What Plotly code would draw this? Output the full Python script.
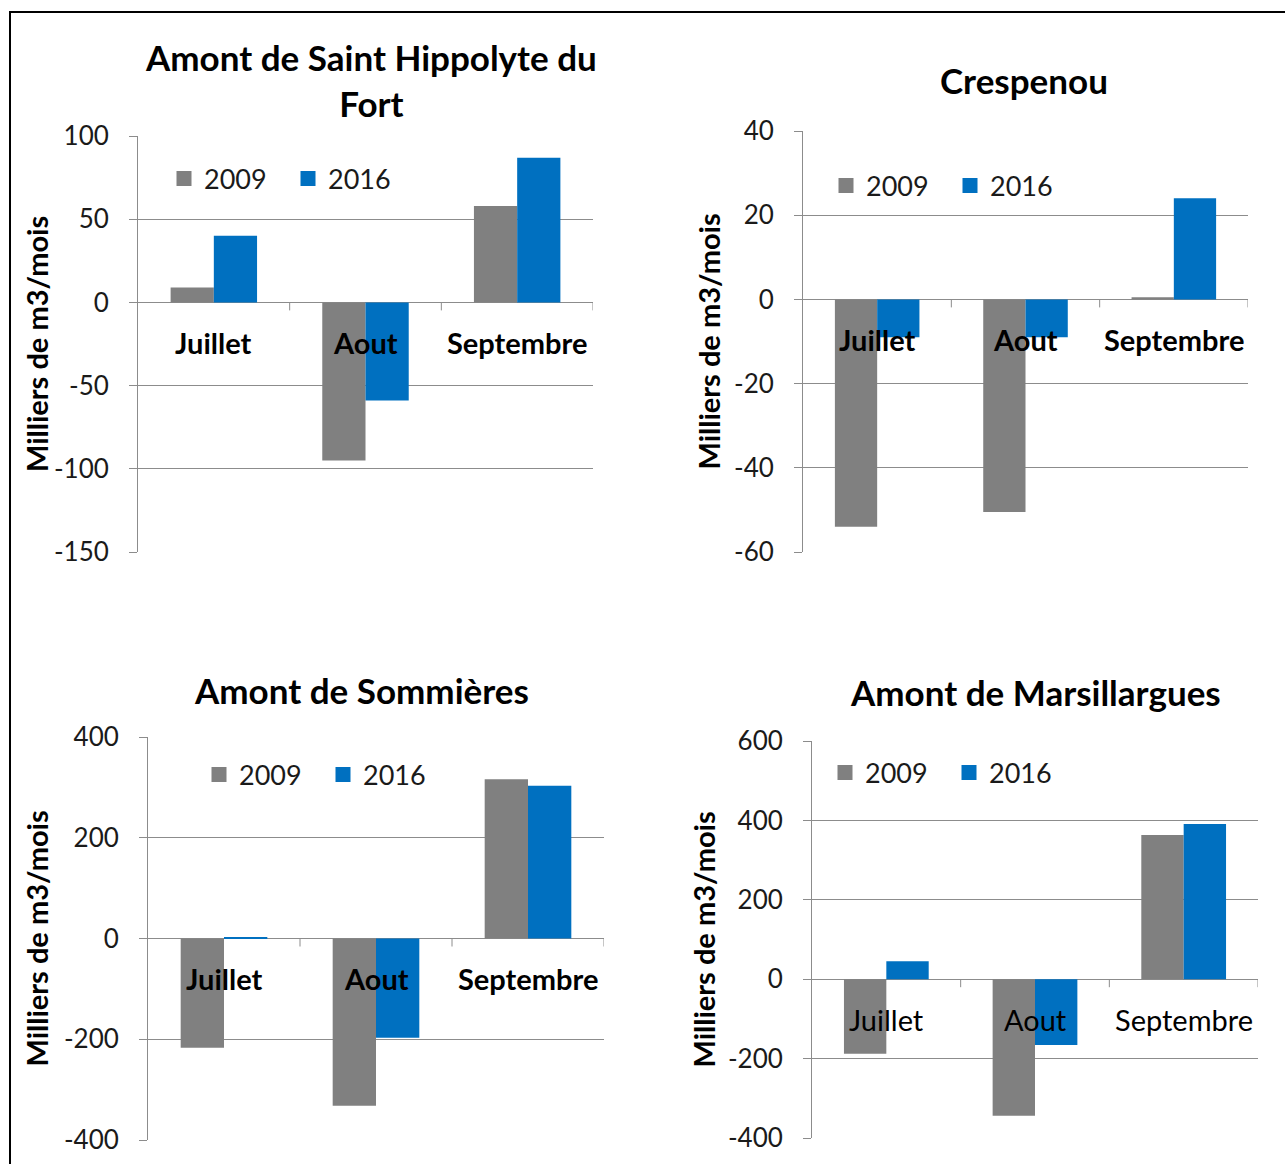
import plotly.graph_objects as go

W, H = 1285, 1164

months = ["Juillet", "Aout", "Septembre"]
years = ["2009", "2016"]
year_colors = {"2009": "#808080", "2016": "#0070C0"}

# Monthly balance in thousands of m3 per station
titles = [
    "Amont de Saint Hippolyte du<br>Fort",
    "Crespenou",
    "Amont de Sommières",
    "Amont de Marsillargues",
]
st_hippolyte_2009 = [9, -95, 58]
st_hippolyte_2016 = [40, -59, 87]
crespenou_2009 = [-54, -50.5, 0.5]
crespenou_2016 = [-9, -9, 24]
sommieres_2009 = [-217, -332, 316]
sommieres_2016 = [3, -197, 303]
marsillargues_2009 = [-188, -344, 363]
marsillargues_2016 = [45, -166, 391]

# value-axis ticks for each panel
ticks_st_hippolyte = [-150, -100, -50, 0, 50, 100]
ticks_crespenou = [-60, -40, -20, 0, 20, 40]
ticks_sommieres = [-400, -200, 0, 200, 400]
ticks_marsillargues = [-400, -200, 0, 200, 400, 600]

series = [
    (st_hippolyte_2009, st_hippolyte_2016),
    (crespenou_2009, crespenou_2016),
    (sommieres_2009, sommieres_2016),
    (marsillargues_2009, marsillargues_2016),
]
tick_sets = [ticks_st_hippolyte, ticks_crespenou, ticks_sommieres,
             ticks_marsillargues]

# plot area boxes in pixels: left, right, top, bottom
boxes = [
    (138, 593, 136, 552),
    (803, 1248, 131, 552),
    (148, 604, 737, 1140),
    (812, 1258, 741, 1138),
]
title_pos = [(371, 80), (1024, 80), (361, 690), (1035, 692)]
ytitle_x = [36, 708, 36, 703]
legend_pos = [(164, 179), (826, 186), (199, 775), (825, 773)]
label_bold = [True, True, True, False]

FONT = "Lato"
GRID = "#8c8c8c"

fig = go.Figure()
annotations = []
shapes = []

for i in range(4):
    n = "" if i == 0 else str(i + 1)
    xa, ya = "x" + n, "y" + n
    leg = "legend" if i == 0 else "legend" + str(i + 1)
    for yr, vals in zip(years, series[i]):
        fig.add_trace(go.Bar(
            x=months, y=vals, name=yr, marker_color=year_colors[yr],
            marker_line_width=0, xaxis=xa, yaxis=ya, showlegend=False,
        ))
    # legend keys drawn as square markers
    for yr in years:
        fig.add_trace(go.Scatter(
            x=[None], y=[None], mode="markers", name=yr,
            marker=dict(symbol="square", size=15, color=year_colors[yr]),
            xaxis=xa, yaxis=ya, legend=leg, showlegend=True,
        ))
    l, r, t, b = boxes[i]
    tv = tick_sets[i]
    fig.layout["xaxis" + n] = dict(
        domain=[l / W, r / W], anchor=ya, range=[-0.5, 2.5],
        showticklabels=False, showline=False, showgrid=False, zeroline=False,
        fixedrange=True,
    )
    fig.layout["yaxis" + n] = dict(
        domain=[1 - b / H, 1 - t / H], anchor=xa, range=[tv[0], tv[-1]],
        tickmode="array", tickvals=tv, ticktext=[str(v) for v in tv],
        showgrid=True, gridcolor=GRID, gridwidth=1,
        zeroline=True, zerolinecolor=GRID, zerolinewidth=1,
        showline=True, linecolor=GRID, linewidth=1,
        ticks="outside", ticklen=8, tickcolor=GRID,
        ticklabelstandoff=15,
        tickfont=dict(family=FONT, size=26, color="#1a1a1a"),
        fixedrange=True,
    )
    lx, ly = legend_pos[i]
    fig.layout[leg] = dict(
        x=lx / W, y=1 - ly / H, xanchor="left", yanchor="middle",
        orientation="h", bgcolor="rgba(0,0,0,0)",
        font=dict(family=FONT, size=27, color="#1a1a1a"),
        entrywidth=79, entrywidthmode="pixels", itemwidth=30,
        traceorder="normal",
    )
    # chart title
    tx, ty = title_pos[i]
    annotations.append(dict(
        text="<b>" + titles[i] + "</b>", x=tx / W, y=1 - ty / H,
        xref="paper", yref="paper", showarrow=False,
        xanchor="center", yanchor="middle",
        font=dict(family=FONT, size=35, color="#000000"),
    ))
    # value axis title
    annotations.append(dict(
        text="<b>Milliers de m3/mois</b>", x=ytitle_x[i] / W,
        y=1 - ((t + b) / 2) / H, xref="paper", yref="paper",
        showarrow=False, textangle=-90, xanchor="center", yanchor="middle",
        font=dict(family=FONT, size=29, color="#000000"),
    ))
    # category labels sit just under the zero line
    for m in months:
        txt = "<b>" + m + "</b>" if label_bold[i] else m
        annotations.append(dict(
            text=txt, x=m, y=0, xref=xa, yref=ya, showarrow=False,
            yshift=-40, xanchor="center", yanchor="middle",
            font=dict(family=FONT, size=29, color="#000000"),
        ))
    # category tick marks at boundaries on the zero line
    for k in range(len(months)):
        shapes.append(dict(
            type="line", xref=xa, yref=ya, x0=k + 0.5, x1=k + 0.5,
            ysizemode="pixel", yanchor=0, y0=0, y1=-8,
            line=dict(color=GRID, width=1),
        ))

# outer frame
shapes.append(dict(
    type="rect", xref="paper", yref="paper",
    x0=10 / W, x1=1300 / W, y0=1 - 1180 / H, y1=1 - 12 / H,
    line=dict(color="#000000", width=2), fillcolor="rgba(0,0,0,0)",
    layer="below",
))

fig.update_layout(
    width=W, height=H,
    margin=dict(l=0, r=0, t=0, b=0, autoexpand=False),
    paper_bgcolor="white", plot_bgcolor="white",
    barmode="group", bargap=0.43, bargroupgap=0,
    annotations=annotations, shapes=shapes, showlegend=True,
)

fig.write_html("out.html")
